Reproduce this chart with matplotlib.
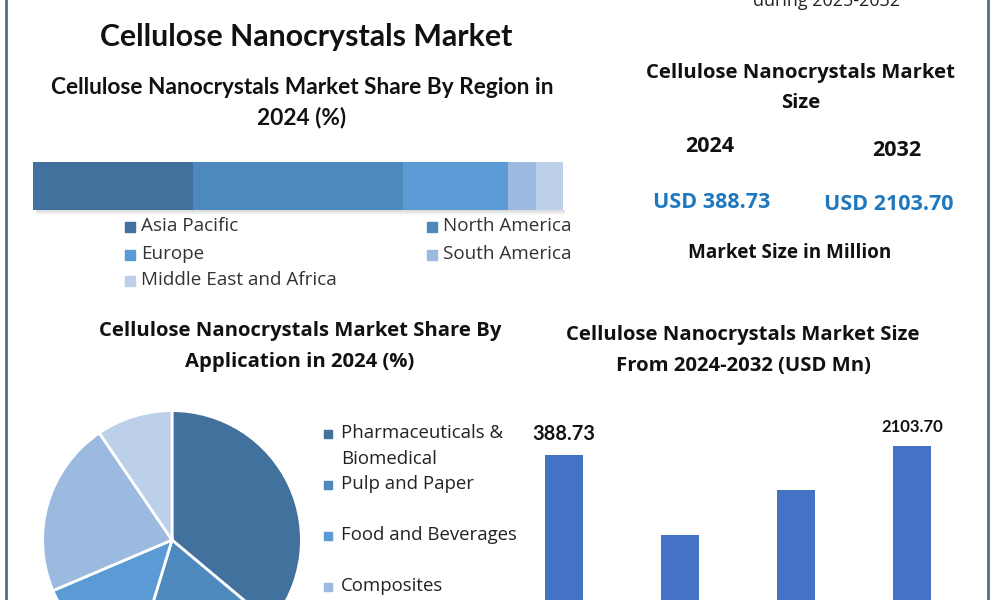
import matplotlib
matplotlib.use("Agg")
import matplotlib.pyplot as plt
import numpy as np

# données
regions = ["Asia Pacific", "North America", "Europe", "South America",
           "Middle East and Africa"]
region_share = [30.2, 39.6, 19.8, 5.3, 5.1]
region_colors = ["#41719C", "#4E89BE", "#5B9BD5", "#9CBAE0", "#BDD0EA"]

applications = ["Pharmaceuticals &\nBiomedical", "Pulp and Paper",
                "Food and Beverages", "Composites", "Others"]
application_share = [36.1, 18.6, 13.9, 21.9, 9.5]
application_colors = ["#41719C", "#4E89BE", "#5B9BD5", "#9CBAE0", "#BDD0EA"]

# hauteurs relatives des barres (pas d'axe visible sur l'image)
bar_heights = [145, 65, 110, 154]
bar_labels = ["388.73", "", "", "2103.70"]
bar_color = "#4472C4"

size_years = ["2024", "2032"]
size_values = ["USD 388.73", "USD 2103.70"]

W, H = 1000, 600
fig = plt.figure(figsize=(10, 6), dpi=100)
fig.patch.set_facecolor("white")

def box(x0, y0, x1, y1):
    # pixels de l'image -> coordonnées de la figure
    return [x0 / W, 1 - y1 / H, (x1 - x0) / W, (y1 - y0) / H]

# calque de fond pour les textes et les bordures
bg = fig.add_axes([0, 0, 1, 1])
bg.set_xlim(0, W)
bg.set_ylim(H, 0)
bg.axis("off")

bg.plot([6, 6], [0, H], color="#5B6D82", lw=2)
bg.plot([988, 988], [0, H], color="#5B6D82", lw=2)

calib = ["Lato", "DejaVu Sans"]
segoe = ["Open Sans", "DejaVu Sans"]
dark = "#111111"

bg.text(827, 1, "during 2025-2032", ha="center", va="center", fontsize=13,
        family=segoe, color="#222222")
bg.text(306, 37, "Cellulose Nanocrystals Market", ha="center", va="center",
        fontsize=21.8, family=calib, weight="bold", color=dark)
bg.text(302, 88, "Cellulose Nanocrystals Market Share By Region in",
        ha="center", va="center", fontsize=16.3, family=calib, weight="bold",
        color=dark)
bg.text(302, 118, "2024 (%)", ha="center", va="center", fontsize=16.3,
        family=calib, weight="bold", color=dark)

sub = 14.6
bg.text(801, 73, "Cellulose Nanocrystals Market", ha="center", va="center",
        fontsize=sub, family=segoe, weight="bold", color=dark)
bg.text(801, 103, "Size", ha="center", va="center", fontsize=sub,
        family=segoe, weight="bold", color=dark)
for x, y, yr in zip([710, 897], [147, 150], size_years):
    bg.text(x, y, yr, ha="center", va="center", fontsize=15.5, family=segoe,
            weight="bold", color=dark)
for x, y, v in zip([712, 889], [202, 205], size_values):
    bg.text(x, y, v, ha="center", va="center", fontsize=15.5, family=segoe,
            weight="bold", color="#1F78BE")
bg.text(790, 253, "Market Size in Million", ha="center", va="center",
        fontsize=13.6, family=segoe, weight="bold", color=dark)

bg.text(300, 331, "Cellulose Nanocrystals Market Share By", ha="center",
        va="center", fontsize=sub, family=segoe, weight="bold", color=dark)
bg.text(300, 362, "Application in 2024 (%)", ha="center", va="center",
        fontsize=sub, family=segoe, weight="bold", color=dark)
bg.text(743, 335, "Cellulose Nanocrystals Market Size", ha="center",
        va="center", fontsize=sub, family=segoe, weight="bold", color=dark)
bg.text(743, 366, "From 2024-2032 (USD Mn)", ha="center", va="center",
        fontsize=sub, family=segoe, weight="bold", color=dark)

# ombre légère sous la barre empilée
for k in range(5):
    bg.fill_between([36, 565], 210 + k, 211 + k, color="#000000",
                    alpha=0.14 * (1 - k / 5), lw=0)

# barre empilée par région
ax1 = fig.add_axes(box(33, 162, 563, 210))
left = 0
for val, col in zip(region_share, region_colors):
    ax1.barh(0, val, left=left, height=1.0, color=col)
    left += val
ax1.set_xlim(0, sum(region_share))
ax1.set_ylim(0.5, -0.5)
ax1.axis("off")

leg_pos = [(130, 226), (432, 226), (130, 254), (432, 254), (130, 280)]
for (x, y), name, col in zip(leg_pos, regions, region_colors):
    bg.scatter(x, y + 1, marker="s", s=45, color=col)
    bg.text(x + 11, y, name, ha="left", va="center", fontsize=13.6,
            family=segoe, color="#333333")

# camembert par application
ax2 = fig.add_axes(box(40, 408, 304, 672))
ax2.pie(application_share, colors=application_colors, startangle=90,
        counterclock=False, radius=1,
        wedgeprops=dict(edgecolor="white", linewidth=2))
ax2.set_xlim(-1.02, 1.02)
ax2.set_ylim(-1.02, 1.02)
ax2.set_aspect("equal")

# légende du camembert (la dernière entrée est hors de l'image)
app_pos = [433, 484, 535, 586]
for y, name, col in zip(app_pos, applications, application_colors):
    bg.scatter(328, y + 1, marker="s", s=30, color=col)
    for k, ln in enumerate(name.split("\n")):
        bg.text(341, y + 26 * k, ln, ha="left", va="center", fontsize=13.4,
                family=segoe, color="#222222")

# barres de taille du marché
ax3 = fig.add_axes(box(506, 400, 970, 600))
xs = np.arange(len(bar_heights))
bars = ax3.bar(xs, bar_heights, width=0.32, color=bar_color)
for b, lab, fs in zip(bars, bar_labels, [14.4, 12, 12, 12]):
    if lab:
        ax3.annotate(lab, (b.get_x() + b.get_width() / 2, b.get_height()),
                     xytext=(0, 8), textcoords="offset points", ha="center",
                     va="bottom", fontsize=fs, family=calib, weight="bold",
                     color=dark)
ax3.set_xlim(-0.5, len(bar_heights) - 0.5)
ax3.set_ylim(0, 200)
ax3.axis("off")

fig.savefig("out.png", dpi=100)
